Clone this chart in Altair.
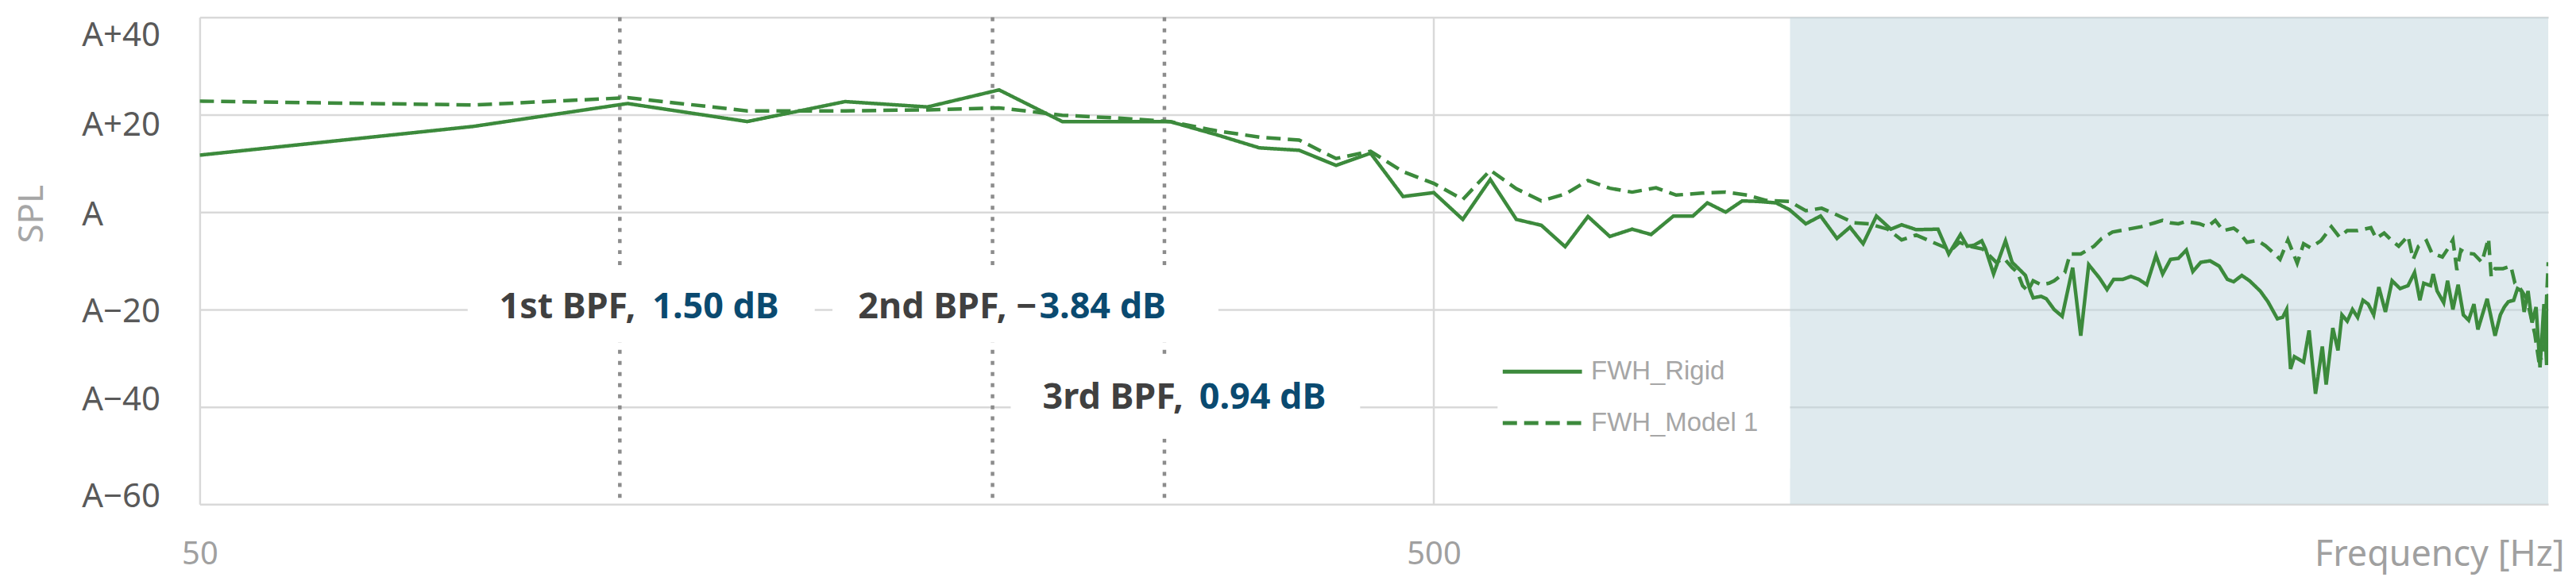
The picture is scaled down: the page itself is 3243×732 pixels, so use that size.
import altair as alt
import pandas as pd

GREEN = '#3c8a3c'

# ---------------- data ----------------
series_names = ['FWH_Rigid', 'FWH_Model 1']

freq_rigid = [50, 83.3, 111.1, 138.9, 166.7, 194.4, 222.2, 250, 277.8, 305.6, 333.3, 361.1,
              388.9, 416.7, 444.4, 472.2, 500, 527.8, 555.6, 583.3, 611.1, 638.9, 666.7, 694.4,
              724, 750, 782, 811, 833, 862, 889, 915, 947, 971, 1001, 1029, 1061, 1087, 1114,
              1142, 1173, 1197, 1230,
              1281, 1307, 1336, 1353, 1370, 1390, 1400, 1421, 1453, 1471, 1493, 1508, 1522, 1530,
              1553, 1568, 1591, 1615, 1647, 1672, 1697, 1731, 1756, 1778, 1809, 1836, 1863, 1891,
              1924, 1948, 1977, 2006, 2036, 2061, 2092, 2128, 2165, 2198, 2224,
              2258, 2291, 2337, 2371, 2413, 2437, 2455, 2473, 2491, 2534, 2560, 2591, 2624, 2643,
              2676, 2702, 2722, 2749, 2776, 2803, 2831, 2859, 2888, 2916, 2952, 2989, 3034, 3079,
              3117, 3148, 3171, 3211, 3227, 3251, 3291, 3315, 3348, 3381, 3414, 3448, 3482, 3508,
              3543, 3569, 3622, 3658, 3685, 3713, 3750, 3777, 3805, 3824, 3852, 3881, 3910, 3939,
              3968, 3988, 4000]
spl_rigid = [11.7, 17.6, 22.3, 18.6, 22.7, 21.6, 25.1, 18.6, 18.6, 18.6, 15.9, 13.2,
             12.7, 9.6, 12.1, 3.2, 4.0, -1.5, 6.7, -1.5, -2.7, -7.1, -0.9, -5.0,
             -3.5, -4.6, -0.8, -0.8, 1.9, 0.0, 2.3, 2.2, 1.9, 0.5, -2.4, -0.8, -5.4, -3.1, -6.5,
             -0.8, -3.5, -2.6, -3.6,
             -3.5, -8.6, -4.6, -7.0, -6.8, -5.9, -7.6, -12.7, -5.9, -10.3, -11.9, -13.0, -16.2, -17.6,
             -17.3, -17.8, -20.0, -21.4, -11.4, -25.4, -10.8, -13.5, -15.9, -13.8, -13.8, -13.2, -13.8, -14.9,
             -8.9, -12.7, -9.7, -9.5, -7.8, -12.2, -10.3, -10.0, -11.1, -13.8, -14.3,
             -13.0, -14.1, -16.2, -18.4, -21.9, -21.6, -20.0, -32.2, -29.7, -30.8, -24.3, -37.3, -27.6, -35.4,
             -23.8, -28.4, -21.1, -22.4, -20.0, -21.6, -18.1, -18.9, -21.1, -15.4, -20.5, -14.1, -15.7, -15.1,
             -12.4, -18.1, -14.6, -15.1, -12.7, -16.2, -18.6, -14.1, -20.0, -14.9, -21.1, -22.2, -18.9, -24.1,
             -20.5, -17.8, -25.4, -21.1, -19.5, -18.4, -18.1, -15.7, -16.2, -20.5, -16.2, -22.7, -19.5, -31.9,
             -18.9, -31.4, -16.8]

freq_model = [50, 83.3, 111.1, 138.9, 166.7, 194.4, 222.2, 250, 277.8, 305.6, 333.3, 361.1,
              388.9, 416.7, 444.4, 472.2, 500, 527.8, 555.6, 583.3, 611.1, 638.9, 666.7, 694.4,
              724, 757, 786, 825, 862, 897, 929, 971, 1001, 1031, 1059, 1095, 1127, 1166, 1197, 1230,
              1269, 1313, 1333, 1359, 1393, 1428, 1449, 1471, 1486, 1500, 1515, 1530, 1553, 1576,
              1591, 1623, 1639, 1672, 1714, 1739, 1774, 1827, 1872, 1919, 1948, 1977, 2006, 2036,
              2087, 2118, 2149, 2181, 2224,
              2246, 2280, 2325, 2360, 2401, 2425, 2461, 2504, 2534, 2566, 2617, 2669, 2709, 2749,
              2803, 2873, 2902, 2945, 2989, 3026, 3079, 3109, 3140, 3187, 3219, 3283, 3315, 3348,
              3373, 3398, 3431, 3482, 3534, 3578, 3596, 3622, 3676, 3731, 3759, 3796, 3843, 3900,
              3929, 3968, 4000]
spl_model = [22.8, 22.0, 23.5, 20.8, 20.8, 21.0, 21.4, 19.9, 19.3, 18.6, 16.7, 15.4,
             14.8, 11.0, 12.5, 8.3, 5.9, 2.6, 8.6, 4.8, 2.3, 3.7, 6.5, 4.9,
             4.1, 5.0, 3.5, 3.9, 4.1, 3.5, 2.4, 2.2, 0.3, 0.8, -0.5, -2.2, -2.4, -3.5, -5.7, -4.7,
             -6.2, -7.8, -6.2, -7.0, -7.6, -10.3, -9.5, -11.4, -12.4, -15.1, -16.2, -14.1, -14.9, -14.6,
             -14.1, -12.4, -8.6, -8.6, -7.0, -5.4, -4.1, -3.5, -3.0, -2.2, -1.7, -2.2, -2.4, -1.9,
             -2.4, -3.0, -1.7, -3.8, -3.3,
             -4.1, -6.2, -5.8, -6.9, -8.6, -9.7, -5.7, -10.5, -6.5, -7.3, -5.9, -3.0, -5.1, -3.8,
             -3.8, -3.2, -5.4, -4.3, -5.9, -7.0, -4.9, -9.7, -7.0, -5.9, -8.4, -9.2, -7.6, -5.7,
             -11.9, -7.8, -8.4, -8.6, -10.3, -5.4, -13.2, -11.6, -11.6, -11.1, -14.6, -15.7, -17.8, -24.9,
             -30.3, -29.7, -10.3]

bpf_freq = [109.5, 219.5, 302.5]
bpf_name = ['1st BPF,', '2nd BPF, \u2212', '3rd BPF,']
bpf_delta = ['1.50 dB', '3.84 dB', '0.94 dB']
bpf_label_level = [-19.5, -19.5, -38.1]

shade_range = [972, 4000]
x_ticks = [50, 500]
y_ticks = [-60, -40, -20, 0, 20, 40]

# ---------------- styling (pixel offsets for annotation boxes / text) ----------------
box_offsets = [(-192, 246, -45, 45), (-202, 285, -45, 45), (-194, 247, -51, 52)]
name_dx = [20, 56, 24]
delta_dx = [41, 59, 44]

lines_df = pd.DataFrame({
    'f': freq_rigid + freq_model,
    'spl': spl_rigid + spl_model,
    'series': [series_names[0]] * len(freq_rigid) + [series_names[1]] * len(freq_model),
})
shade_df = pd.DataFrame({'f': [shade_range[0]], 'f2': [shade_range[1]]})
bpf_df = pd.DataFrame({'f': bpf_freq, 'spl': bpf_label_level, 'name': bpf_name, 'delta': bpf_delta})

x_scale = alt.Scale(type='log', domain=[50, 4000], nice=False)
y_scale = alt.Scale(domain=[-60, 40], nice=False, zero=False)

x_axis = alt.Axis(values=x_ticks, format='d', title='Frequency [Hz]', grid=True,
                  gridColor='#d9d9d9', gridWidth=2.5, domain=False, ticks=False, tickSize=0,
                  labelFont='Noto Sans', labelFontSize=40, labelColor='#a0a0a0',
                  labelPadding=63, labelBaseline='middle', labelFlush=False,
                  titleFont='Noto Sans', titleFontSize=45, titleFontWeight='normal',
                  titleColor='#a0a0a0', titleX=2984, titleY=63, titleAlign='right',
                  titleBaseline='middle')
y_axis = alt.Axis(values=y_ticks,
                  labelExpr="datum.value == 0 ? 'A' : (datum.value > 0 ? 'A+' + datum.value : 'A\u2212' + abs(datum.value))",
                  title='SPL', grid=True, gridColor='#d9d9d9', gridWidth=2.5, domain=False,
                  ticks=False, tickSize=0, labelFont='Noto Sans', labelFontSize=42,
                  labelColor='#595959', labelAlign='left',
                  labelBaseline={'condition': [
                      {'test': 'datum.value >= 40', 'value': 'top'},
                      {'test': 'datum.value >= 20', 'value': 'line-top'},
                      {'test': 'datum.value <= -60', 'value': 'alphabetic'},
                      {'test': 'datum.value <= -40', 'value': 'line-bottom'}],
                      'value': 'middle'},
                  labelLineHeight=22, labelOffset=3, labelPadding=149,
                  titleFont='Noto Sans', titleFontSize=44, titleFontWeight='normal',
                  titleColor='#a6a6a6', titleAngle=270, titleX=-211, titleY=248,
                  titleAlign='center', titleBaseline='middle')

x_enc = alt.X('f:Q', scale=x_scale, axis=x_axis)
y_enc = alt.Y('spl:Q', scale=y_scale, axis=y_axis)

shade = alt.Chart(shade_df).mark_rect(color='#bfd5dd', opacity=0.5).encode(x=x_enc, x2='f2:Q')

rules = alt.Chart(bpf_df).mark_rule(color='#8c8c8c', strokeWidth=4.5, strokeDash=[5, 9]).encode(x=x_enc)

boxes = []
texts = []
for i in range(len(bpf_freq)):
    sub = bpf_df.iloc[[i]]
    a, b, c, d = box_offsets[i]
    boxes.append(alt.Chart(sub).mark_rect(color='white', xOffset=a, x2Offset=b, yOffset=c, y2Offset=d)
                 .encode(x=x_enc, x2='f:Q', y=y_enc, y2='spl:Q'))
    texts.append(alt.Chart(sub).mark_text(align='right', baseline='middle', dx=name_dx[i],
                                          font='Noto Sans', fontSize=45, fontWeight='bold',
                                          color='#404040')
                 .encode(x=x_enc, y=y_enc, text='name:N'))
    texts.append(alt.Chart(sub).mark_text(align='left', baseline='middle', dx=delta_dx[i],
                                          font='Noto Sans', fontSize=45, fontWeight='bold',
                                          color='#0a4a70')
                 .encode(x=x_enc, y=y_enc, text='delta:N'))

lines = alt.Chart(lines_df).mark_line(color=GREEN, strokeWidth=4.5, clip=True).encode(
    x=x_enc, y=y_enc,
    strokeDash=alt.StrokeDash(
        'series:N',
        scale=alt.Scale(domain=series_names, range=[[1, 0], [18, 9]]),
        legend=alt.Legend(title=None, orient='none', legendX=1638, legendY=391,
                          symbolType='M-5,0H5', symbolSize=400, symbolStrokeWidth=5,
                          symbolStrokeColor=GREEN, labelFont='Liberation Sans',
                          labelFontSize=33, labelColor='#a6a6a6', labelOffset=45,
                          labelLimit=0, rowPadding=31, padding=40, fillColor='white')),
)

chart = alt.layer(shade, rules, *boxes, *texts, lines).properties(
    width=2964, height=615,
    autosize=alt.AutoSizeParams(type='none'),
    padding={'left': 244, 'top': 13, 'right': 27, 'bottom': 90},
).configure_view(strokeWidth=0)

chart.save('out.html', embed_options={'renderer': 'svg', 'actions': False})
